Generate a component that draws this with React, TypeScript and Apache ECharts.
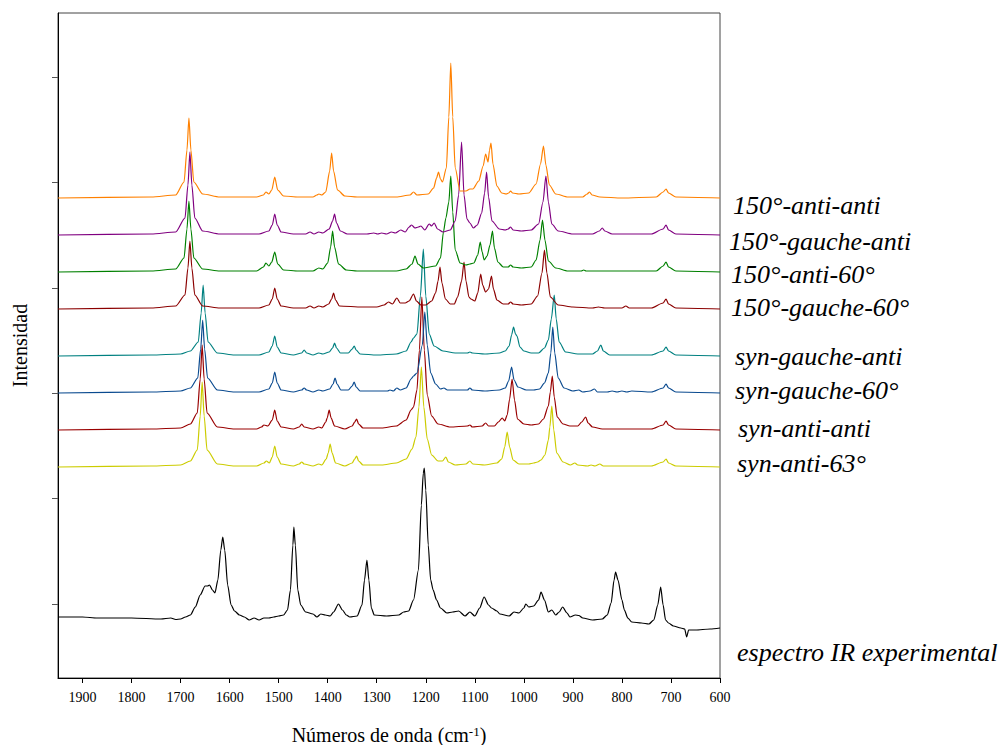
import React, { useEffect, useRef } from "react";
import * as echarts from "echarts";

// ---- Data (wavenumber cm-1, intensity above each trace's baseline, arbitrary units) ----
const xTickLabels = [1900, 1800, 1700, 1600, 1500, 1400, 1300, 1200, 1100, 1000, 900, 800, 700, 600];
const yTickValues = [74, 179.4, 284.8, 390.2, 495.6, 601];

const seriesNames = [
  "150°-anti-anti",
  "150°-gauche-anti",
  "150°-anti-60°",
  "150°-gauche-60°",
  "syn-gauche-anti",
  "syn-gauche-60°",
  "syn-anti-anti",
  "syn-anti-63°",
  "espectro IR experimental",
];
const seriesColors = ["#ff8000", "#800080", "#008000", "#8b0000", "#008080", "#0a4a8f", "#990000", "#cccc00", "#000000"];
const offsets = [480, 443, 406, 369, 322, 285, 248, 211, 0];

const anti150Anti: number[][] = [
  [1950,0],[1760,1],[1710,3],[1693,16],[1687,48],[1683,80],[1679,48],[1673,16],[1655,4],[1620,1],
  [1545,1],[1531,3],[1526,6],[1520,4],[1514,8],[1508,21],[1502,8],[1490,2],[1460,1],
  [1430,1],[1422,3],[1418,4],[1412,3],[1404,6],[1396,27],[1392,45],[1388,27],[1380,8],[1365,2],[1340,1],
  [1260,1],[1232,3],[1225,6],[1218,3],[1195,4],[1184,10],[1178,20],[1174,26],[1170,19],[1166,16],
  [1158,30],[1153,81],[1149,135],[1145,81],[1140,30],[1130,7],[1118,7],[1110,9],[1104,9],
  [1092,17],[1083,32],[1078,44],[1073,36],[1070,48],[1067,55],[1063,34],[1055,12],[1045,5],[1036,4],
  [1031,5],[1027,7],[1023,5],[1010,4],[990,5],[975,14],[966,34],[960,52],[955,33],[948,13],[935,4],
  [910,1],[880,1],[871,4],[866,6],[861,3],[845,1],[800,0],[730,1],[716,6],[710,9],[705,5],[690,1],[600,0],
];
const gauche150Anti: number[][] = [
  [1950,0],[1760,1],[1710,3],[1691,17],[1685,50],[1681,83],[1677,50],[1671,17],[1655,4],[1620,1],
  [1540,1],[1520,4],[1513,10],[1508,21],[1503,10],[1495,3],[1470,1],
  [1445,1],[1436,3],[1428,1],[1418,3],[1410,2],[1397,6],[1390,14],[1386,21],[1382,12],[1374,4],[1360,1],
  [1320,1],[1306,2],[1298,1],[1290,2],[1280,1],[1270,3],[1262,2],[1251,5],[1242,3],[1234,8],[1229,10],
  [1222,7],[1215,8],[1210,9],[1202,5],[1193,11],[1188,9],[1183,12],[1176,6],[1165,3],[1150,5],[1140,14],
  [1133,40],[1127,93],[1122,40],[1116,16],[1110,12],[1103,7],[1095,10],[1086,22],[1080,42],[1076,63],
  [1072,38],[1065,14],[1050,6],[1038,5],[1032,6],[1027,8],[1022,5],[1005,4],[985,5],[970,11],[961,33],
  [955,59],[950,33],[943,11],[930,4],[900,1],[860,1],[846,4],[840,7],[835,4],[820,1],[740,1],
  [716,6],[710,10],[705,5],[690,1],[600,0],
];
const anti150_60: number[][] = [
  [1950,0],[1760,1],[1710,3],[1693,14],[1687,43],[1683,71],[1679,43],[1673,14],[1655,3],[1620,1],
  [1545,1],[1531,5],[1526,9],[1520,6],[1514,10],[1508,20],[1502,8],[1490,2],[1460,1],
  [1430,1],[1418,4],[1410,3],[1400,9],[1394,25],[1390,41],[1386,25],[1378,8],[1362,2],[1340,1],
  [1260,1],[1240,3],[1228,8],[1222,16],[1216,8],[1205,4],[1180,6],[1170,14],[1164,40],[1159,54],
  [1153,70],[1149,96],[1145,60],[1140,22],[1130,9],[1118,7],[1110,8],[1102,9],[1094,17],[1089,30],
  [1085,20],[1081,12],[1075,16],[1069,27],[1064,41],[1060,24],[1053,10],[1042,5],[1032,5],[1027,7],
  [1022,5],[1005,4],[985,5],[975,12],[967,32],[962,52],[957,32],[950,11],[935,4],[910,1],[883,1],
  [878,2],[873,1],[830,1],[730,1],[716,6],[710,10],[705,5],[690,1],[600,0],
];
const gauche150_60: number[][] = [
  [1950,0],[1760,1],[1710,3],[1691,14],[1685,41],[1681,68],[1677,41],[1671,14],[1655,3],[1620,1],
  [1540,1],[1520,4],[1513,10],[1508,21],[1503,10],[1495,3],[1470,1],
  [1445,1],[1436,3],[1428,1],[1418,3],[1410,2],[1398,5],[1392,10],[1388,16],[1384,9],[1376,3],
  [1330,2],[1300,2],[1285,4],[1276,7],[1268,5],[1259,11],[1252,6],[1242,6],[1234,8],[1225,15],
  [1219,8],[1210,4],[1200,4],[1188,8],[1180,16],[1175,28],[1171,42],[1167,26],[1160,10],[1150,5],
  [1142,5],[1135,12],[1127,28],[1122,47],[1118,28],[1112,12],[1108,10],[1100,8],[1094,16],[1088,35],
  [1084,24],[1078,17],[1072,20],[1066,33],[1062,20],[1055,9],[1042,5],[1032,5],[1027,7],[1022,5],
  [1005,4],[985,5],[972,13],[963,36],[958,59],[953,36],[946,12],[930,4],[900,2],[860,1],[848,2],
  [835,1],[800,1],[792,3],[785,1],[740,1],[716,6],[710,10],[705,5],[690,1],[600,0],
];
const synGaucheAnti: number[][] = [
  [1950,0],[1760,1],[1700,2],[1680,5],[1664,14],[1658,43],[1654,71],[1650,43],[1644,14],[1625,3],[1590,1],
  [1540,1],[1520,4],[1513,10],[1508,20],[1503,9],[1495,3],[1470,1],[1453,3],[1448,6],[1443,3],[1430,1],
  [1418,3],[1410,2],[1397,4],[1390,8],[1386,13],[1382,8],[1374,3],[1358,3],[1350,7],[1346,10],[1342,6],
  [1334,2],[1300,1],[1260,2],[1240,5],[1230,14],[1225,18],[1218,22],[1211,60],[1205,107],[1200,60],
  [1193,22],[1183,10],[1165,5],[1140,3],[1115,3],[1110,4],[1105,3],[1080,2],[1050,3],[1038,5],[1030,10],
  [1025,21],[1021,29],[1017,22],[1014,20],[1008,9],[1000,5],[985,3],[970,3],[958,8],[950,16],[944,37],
  [938,61],[934,37],[928,14],[915,4],[890,2],[860,2],[850,5],[843,11],[838,5],[825,1],[740,1],
  [716,5],[710,9],[705,5],[690,1],[600,0],
];
const synGauche60: number[][] = [
  [1950,0],[1760,1],[1700,2],[1680,5],[1665,15],[1659,44],[1655,73],[1651,44],[1645,15],[1625,3],[1590,1],
  [1540,1],[1520,4],[1513,10],[1508,21],[1503,10],[1495,3],[1470,1],[1453,3],[1448,5],[1443,3],[1430,1],
  [1418,3],[1410,2],[1396,4],[1389,9],[1385,15],[1381,9],[1373,3],[1358,3],[1350,7],[1346,11],[1342,6],
  [1334,2],[1290,2],[1278,2],[1273,3],[1266,2],[1259,5],[1252,3],[1240,5],[1230,14],[1225,17],[1218,20],
  [1207,48],[1202,81],[1197,48],[1190,20],[1180,9],[1170,4],[1163,5],[1156,3],[1130,3],[1115,3],[1110,5],
  [1105,3],[1080,2],[1050,3],[1038,5],[1031,12],[1025,26],[1020,13],[1012,6],[995,3],[980,3],[968,4],
  [958,10],[950,20],[945,40],[941,66],[937,40],[930,15],[918,5],[900,2],[888,3],[880,1],[865,2],[856,4],
  [850,1],[830,1],[820,2],[810,1],[800,2],[790,1],[780,2],[740,1],[716,5],[710,9],[705,5],[690,1],[600,0],
];
const synAntiAnti: number[][] = [
  [1950,0],[1760,1],[1700,2],[1680,6],[1666,17],[1660,51],[1656,85],[1652,51],[1646,17],[1625,3],[1590,1],
  [1545,1],[1535,3],[1530,5],[1522,4],[1513,10],[1508,20],[1503,9],[1495,3],[1470,1],[1458,3],[1453,6],
  [1448,3],[1430,1],[1418,3],[1412,2],[1404,8],[1401,12],[1397,20],[1393,12],[1386,4],[1365,1],[1350,4],
  [1345,8],[1341,11],[1337,6],[1328,2],[1290,2],[1260,4],[1240,10],[1230,20],[1225,23],[1218,40],
  [1213,80],[1208,133],[1203,80],[1197,35],[1188,14],[1175,6],[1150,3],[1115,4],[1110,5],[1105,3],
  [1085,4],[1078,7],[1072,4],[1060,4],[1052,8],[1044,12],[1039,9],[1034,15],[1029,31],[1024,51],
  [1019,30],[1013,11],[1000,6],[985,5],[970,6],[960,11],[950,24],[946,38],[942,54],[938,33],[932,13],
  [920,6],[906,4],[890,4],[882,8],[874,13],[869,7],[860,3],[840,1],[740,1],[716,5],[710,9],[705,5],
  [690,1],[600,0],
];
const synAnti63: number[][] = [
  [1950,0],[1760,1],[1700,2],[1680,6],[1666,17],[1660,51],[1656,85],[1652,51],[1646,17],[1625,3],[1590,1],
  [1545,1],[1530,4],[1525,6],[1519,4],[1513,10],[1508,21],[1503,10],[1495,3],[1470,1],[1458,3],[1453,5],
  [1448,3],[1430,1],[1418,3],[1412,2],[1403,8],[1399,14],[1395,23],[1391,14],[1384,4],[1365,1],[1350,4],
  [1345,8],[1341,11],[1337,6],[1328,2],[1290,2],[1260,4],[1240,8],[1228,18],[1220,30],[1214,60],
  [1209,100],[1204,60],[1197,28],[1188,12],[1175,6],[1166,6],[1159,10],[1154,5],[1140,2],[1118,3],
  [1110,6],[1104,3],[1080,2],[1055,4],[1045,8],[1039,20],[1034,35],[1029,20],[1022,7],[1010,3],[990,3],
  [980,4],[972,5],[965,7],[957,12],[950,27],[947,40],[943,61],[939,37],[933,14],[920,5],[905,2],[896,4],
  [890,2],[870,1],[863,2],[855,1],[845,3],[838,1],[800,1],[740,1],[716,5],[710,8],[705,4],[690,1],[600,0],
];
const experimental: number[][] = [
  [1950,61],[1900,61],[1870,60],[1800,60],[1740,59],[1720,60],[1710,58.5],[1700,59],[1690,61],[1680,63],
  [1670,71],[1660,83],[1650,92],[1645,92],[1641,93],[1635,88],[1630,85],[1624,98],[1618,128],[1614,141],
  [1610,128],[1604,93],[1597,73],[1590,67],[1580,63],[1570,61],[1560,58],[1550,60],[1540,58],[1530,60],
  [1520,60],[1510,61],[1500,62],[1490,63],[1482,68],[1476,88],[1471,133],[1469,151],[1466,133],[1461,88],
  [1455,73],[1445,66],[1430,64],[1422,61],[1414,64],[1405,63],[1395,62],[1388,66],[1378,74],[1370,68],
  [1362,63],[1355,61],[1340,62],[1330,73],[1325,98],[1320,118],[1316,98],[1311,70],[1305,63],[1280,62],
  [1255,63],[1245,66],[1235,67],[1225,78],[1215,108],[1209,173],[1205,205],[1203,210],[1200,188],
  [1195,133],[1190,98],[1185,88],[1178,78],[1170,70],[1157,65],[1145,66],[1133,67],[1120,62],[1110,66],
  [1100,62],[1090,70],[1081,81],[1072,73],[1066,70],[1055,67],[1049,64],[1030,62],[1020,66],[1010,65],
  [1000,70],[996,74],[990,71],[980,72],[970,78],[965,86],[958,78],[950,66],[943,68],[935,63],[928,66],
  [921,71],[912,65],[906,61],[895,63],[888,62.5],[880,60],[860,58],[840,59],[830,63],[822,75],[816,98],
  [813,106],[808,98],[800,78],[795,68],[788,60],[780,56],[760,55],[745,54],[735,58],[727,73],[721,91],
  [716,73],[711,58],[705,55],[695,52],[680,50],[672,49],[668,41],[664,48],[650,48],[620,49],[600,50],
];

const traces = [
  anti150Anti, gauche150Anti, anti150_60, gauche150_60,
  synGaucheAnti, synGauche60, synAntiAnti, synAnti63, experimental,
];

// label anchor positions (left x, vertical centre y) in pixels
const labelPos: number[][] = [
  [733, 205], [729, 241], [731, 274], [731, 307],
  [735, 356], [735, 390], [738, 428], [737, 463], [737, 652],
];

const SERIF = "'Liberation Serif', 'Times New Roman', 'DejaVu Serif', serif";

export default function App() {
  const ref = useRef<HTMLDivElement>(null);

  useEffect(() => {
    document.body.style.margin = "0";
    if (!ref.current) return;
    const chart = echarts.init(ref.current, undefined, { renderer: "svg" });

    const series = traces.map((t, i) => ({
      name: seriesNames[i],
      type: "line",
      showSymbol: false,
      symbol: "none",
      smooth: 0.25,
      smoothMonotone: "x",
      z: 2 + (traces.length - i),
      lineStyle: { color: seriesColors[i], width: 1.2 },
      itemStyle: { color: seriesColors[i] },
      data: t.map((p) => [p[0], p[1] + offsets[i]]),
    }));

    const graphics = seriesNames.map((n, i) => ({
      type: "text",
      x: labelPos[i][0],
      y: labelPos[i][1],
      style: {
        text: n,
        font: `italic 26px ${SERIF}`,
        fill: "#000",
        align: "left",
        verticalAlign: "middle",
      },
    }));

    chart.setOption({
      animation: false,
      backgroundColor: "#fff",
      textStyle: { fontFamily: SERIF },
      grid: {
        left: 58,
        right: 283,
        top: 13,
        bottom: 67,
        show: true,
        borderColor: "#444",
        borderWidth: 1,
        containLabel: false,
        outerBoundsMode: "none",
      },
      xAxis: {
        type: "value",
        min: 600,
        max: 1950,
        inverse: true,
        name: "{a|Números de onda (cm}{s|-1}{a|)}",
        nameLocation: "middle",
        nameGap: 47,
        nameTextStyle: {
          fontFamily: SERIF,
          rich: {
            a: { fontFamily: SERIF, fontSize: 20, color: "#000", verticalAlign: "bottom" },
            s: { fontFamily: SERIF, fontSize: 13, color: "#000", verticalAlign: "top" },
          },
        },
        axisLine: { show: true, lineStyle: { color: "#000", width: 1 } },
        axisTick: { show: true, length: 5, inside: false, customValues: xTickLabels, lineStyle: { color: "#000" } },
        axisLabel: {
          customValues: xTickLabels,
          formatter: (v: number) => String(v),
          fontFamily: SERIF,
          fontSize: 14,
          color: "#000",
          margin: 12,
        },
        splitLine: { show: false },
      },
      yAxis: {
        type: "value",
        min: 0,
        max: 665,
        name: "Intensidad",
        nameLocation: "middle",
        nameGap: 28,
        nameTextStyle: { fontFamily: SERIF, fontSize: 20, color: "#000" },
        axisLine: { show: true, lineStyle: { color: "#000", width: 1 } },
        axisTick: { show: true, length: 6, inside: false, customValues: yTickValues, lineStyle: { color: "#555" } },
        axisLabel: { show: false },
        splitLine: { show: false },
      },
      series,
      graphic: graphics,
    });

    return () => chart.dispose();
  }, []);

  return <div ref={ref} style={{ width: 1003, height: 745, overflow: "hidden" }} />;
}
